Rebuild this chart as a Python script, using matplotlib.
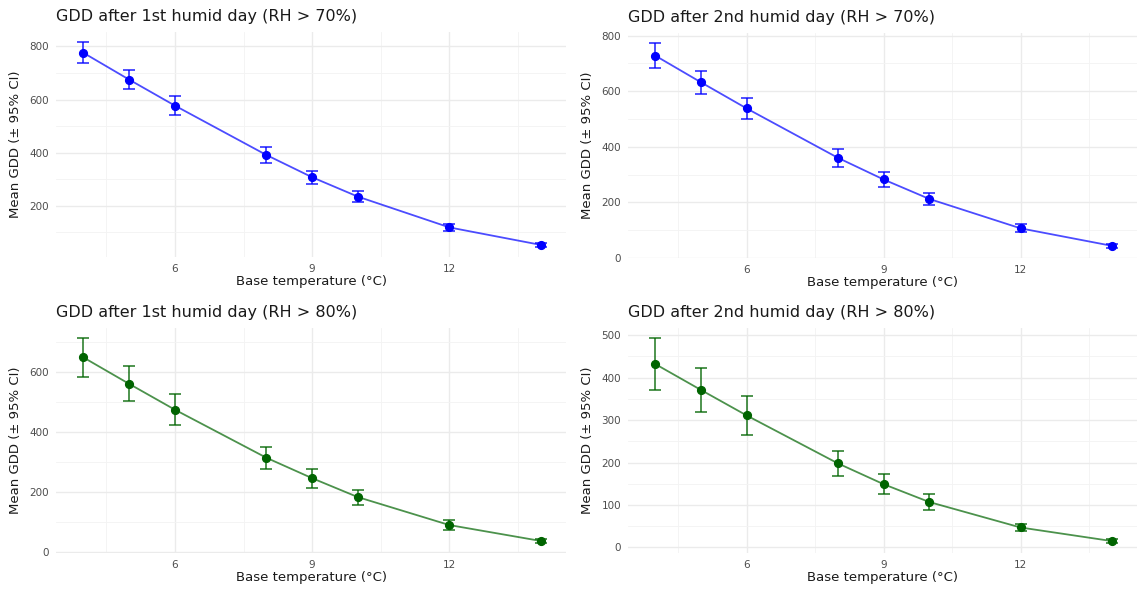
import matplotlib
matplotlib.use("Agg")
import matplotlib.pyplot as plt
from matplotlib.ticker import MultipleLocator, FixedLocator

base_temp = [4, 5, 6, 8, 9, 10, 12, 14]

rh70_day1_mean = [776, 675, 577, 391, 307, 234, 118, 52]
rh70_day1_ci = [40, 37, 35, 29, 25, 20, 13, 7]

rh70_day2_mean = [728, 632, 538, 360, 282, 212, 106, 43]
rh70_day2_ci = [45, 42, 38, 32, 27, 22, 14, 7]

rh80_day1_mean = [648, 560, 474, 314, 246, 183, 90, 37]
rh80_day1_ci = [64, 58, 51, 36, 31, 25, 16, 6]

rh80_day2_mean = [432, 371, 311, 198, 149, 107, 47, 15]
rh80_day2_ci = [61, 53, 45, 30, 23, 18, 8, 4]

titles = ["GDD after 1st humid day (RH > 70%)",
          "GDD after 2nd humid day (RH > 70%)",
          "GDD after 1st humid day (RH > 80%)",
          "GDD after 2nd humid day (RH > 80%)"]

x_ticks = [6, 9, 12]

W, H = 1137, 590
fig = plt.figure(figsize=(W / 100, H / 100), dpi=100)
fig.patch.set_facecolor("white")

def rect(l, t, w, h):
    return [l / W, 1 - (t + h) / H, w / W, h / H]

panels = [
    (rect(56, 32, 510, 225), rh70_day1_mean, rh70_day1_ci, "#0000ff", 200),
    (rect(628, 33, 509, 225), rh70_day2_mean, rh70_day2_ci, "#0000ff", 200),
    (rect(56, 328, 510, 225), rh80_day1_mean, rh80_day1_ci, "#006400", 200),
    (rect(628, 328, 509, 225), rh80_day2_mean, rh80_day2_ci, "#006400", 100),
]

for (pos, mean, ci, color, ystep), title in zip(panels, titles):
    ax = fig.add_axes(pos)
    ax.set_facecolor("white")
    ax.errorbar(base_temp, mean, yerr=ci, fmt="none", ecolor=color, alpha=0.75,
                elinewidth=1.3, capsize=4.3, capthick=1.3, zorder=3)
    ax.plot(base_temp, mean, color=color, alpha=0.7, lw=1.3, zorder=3)
    ax.plot(base_temp, mean, "o", color=color, ms=5.6, zorder=4)
    ax.set_xlim(3.4, 14.55)
    lo = min(m - c for m, c in zip(mean, ci))
    hi = max(m + c for m, c in zip(mean, ci))
    pad = 0.05 * (hi - lo)
    ax.set_ylim(lo - pad, hi + pad)
    ax.xaxis.set_major_locator(FixedLocator(x_ticks))
    ax.xaxis.set_minor_locator(FixedLocator([4.5, 7.5, 10.5, 13.5]))
    ax.yaxis.set_major_locator(MultipleLocator(ystep))
    ax.yaxis.set_minor_locator(MultipleLocator(ystep / 2))
    ax.grid(True, which="major", color="#ebebeb", lw=1.0, zorder=0)
    ax.grid(True, which="minor", color="#f3f3f3", lw=0.6, zorder=0)
    for s in ax.spines.values():
        s.set_visible(False)
    ax.tick_params(which="both", length=0, labelsize=7.5, labelcolor="#4d4d4d")
    ax.tick_params(axis="y", pad=5)
    ax.tick_params(axis="x", pad=5)
    ax.set_xlabel("Base temperature (°C)", fontsize=9.5, color="#1a1a1a", labelpad=1)
    ax.set_ylabel("Mean GDD (± 95% CI)", fontsize=9.5, color="#1a1a1a", labelpad=5)
    ax.set_title(title, loc="left", fontsize=11.5, color="#1a1a1a", pad=8)

fig.savefig("out.png", dpi=100, facecolor="white")
